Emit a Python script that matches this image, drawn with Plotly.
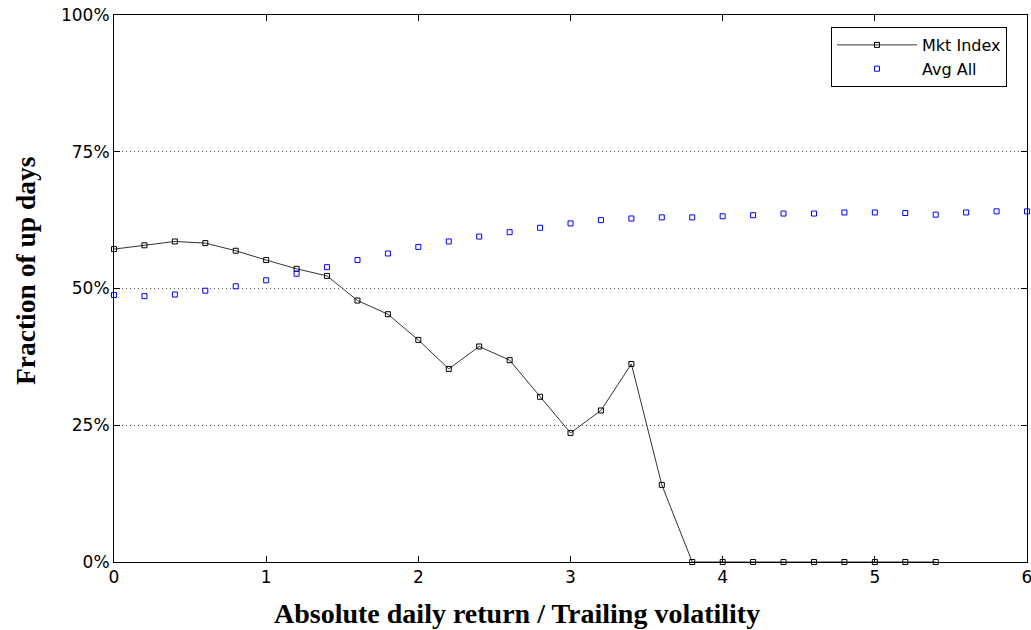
import plotly.graph_objects as go

x_vals = [round(0.2 * i, 1) for i in range(31)]

mkt_x = [0.0, 0.2, 0.4, 0.6, 0.8, 1.0, 1.2, 1.4, 1.6, 1.8, 2.0, 2.2, 2.4, 2.6, 2.8,
         3.0, 3.2, 3.4, 3.6, 3.8, 4.0, 4.2, 4.4, 4.6, 4.8, 5.0, 5.2, 5.4]
mkt_index = [57.2, 57.9, 58.6, 58.3, 56.9, 55.2, 53.6, 52.3, 47.8, 45.3, 40.6, 35.3, 39.4, 36.9, 30.2,
             23.6, 27.7, 36.2, 14.1, 0.0, 0.0, 0.0, 0.0, 0.0, 0.0, 0.0, 0.0, 0.0]

avg_all = [48.8, 48.6, 48.9, 49.6, 50.4, 51.5, 52.7, 53.9, 55.2, 56.4, 57.6, 58.6, 59.5, 60.3, 61.1,
           61.9, 62.5, 62.8, 63.0, 63.0, 63.2, 63.4, 63.7, 63.7, 63.9, 63.9, 63.8, 63.5, 63.9, 64.1, 64.1]

y_ticks = [0, 25, 50, 75, 100]
y_tick_text = ["0%", "25%", "50%", "75%", "100%"]
x_ticks = [0, 1, 2, 3, 4, 5, 6]

W, H = 1031, 630
L, R, T, B = 114, 4, 15, 68
PW, PH = W - L - R, H - T - B

fig = go.Figure()
fig.add_trace(go.Scatter(
    x=mkt_x, y=mkt_index, name="Mkt Index", mode="lines+markers",
    line=dict(color="#333333", width=1),
    marker=dict(symbol="square-open", size=5, color="#000000", line=dict(width=1)),
    cliponaxis=False,
))
fig.add_trace(go.Scatter(
    x=x_vals, y=avg_all, name="Avg All", mode="markers",
    marker=dict(symbol="square-open", size=5, color="#0000ff", line=dict(width=1)),
    cliponaxis=False,
))

serif = "Liberation Serif, Times New Roman, serif"
sans = "DejaVu Sans, sans-serif"

fig.update_layout(
    width=W, height=H,
    margin=dict(l=L, r=R, t=T, b=B, autoexpand=False),
    paper_bgcolor="white", plot_bgcolor="white",
    font=dict(family=sans, size=17, color="black"),
    showlegend=True,
    legend=dict(
        x=(1007 - L) / PW, y=(H - B - 27) / PH, xanchor="right", yanchor="top",
        bordercolor="black", borderwidth=1, bgcolor="white",
        font=dict(family=sans, size=16),
        tracegroupgap=0, itemwidth=80,
    ),
    xaxis=dict(
        range=[0, 6], tickvals=x_ticks, ticks="inside", ticklen=6, tickcolor="black",
        showline=True, linecolor="black", linewidth=1, mirror="ticks",
        showgrid=False, zeroline=False, automargin=False,
        ticklabeloverflow="allow",
    ),
    yaxis=dict(
        range=[0, 100], tickvals=y_ticks, ticktext=y_tick_text, ticks="inside", ticklen=6,
        tickcolor="black",
        showline=True, linecolor="black", linewidth=1, mirror="ticks",
        showgrid=True, gridcolor="#555555", griddash="1px,3px", gridwidth=1, zeroline=False,
        automargin=False, ticklabeloverflow="allow",
    ),
    annotations=[
        dict(text="<b>Absolute daily return / Trailing volatility</b>",
             xref="paper", yref="paper",
             x=(517 - L) / PW, y=-(613 - (H - B)) / PH,
             xanchor="center", yanchor="middle", showarrow=False,
             font=dict(family=serif, size=28, color="black")),
        dict(text="<b>Fraction of up days</b>", textangle=-90,
             xref="paper", yref="paper",
             x=-(L - 25) / PW, y=(H - B - 271) / PH,
             xanchor="center", yanchor="middle", showarrow=False,
             font=dict(family=serif, size=27.5, color="black")),
    ],
)

# remove the default 8px page margin so the figure sits at the window's top-left corner
fig.write_html(
    "out.html",
    config={"displayModeBar": False},
    post_script="document.body.style.margin='0';document.body.style.overflow='hidden';",
)
